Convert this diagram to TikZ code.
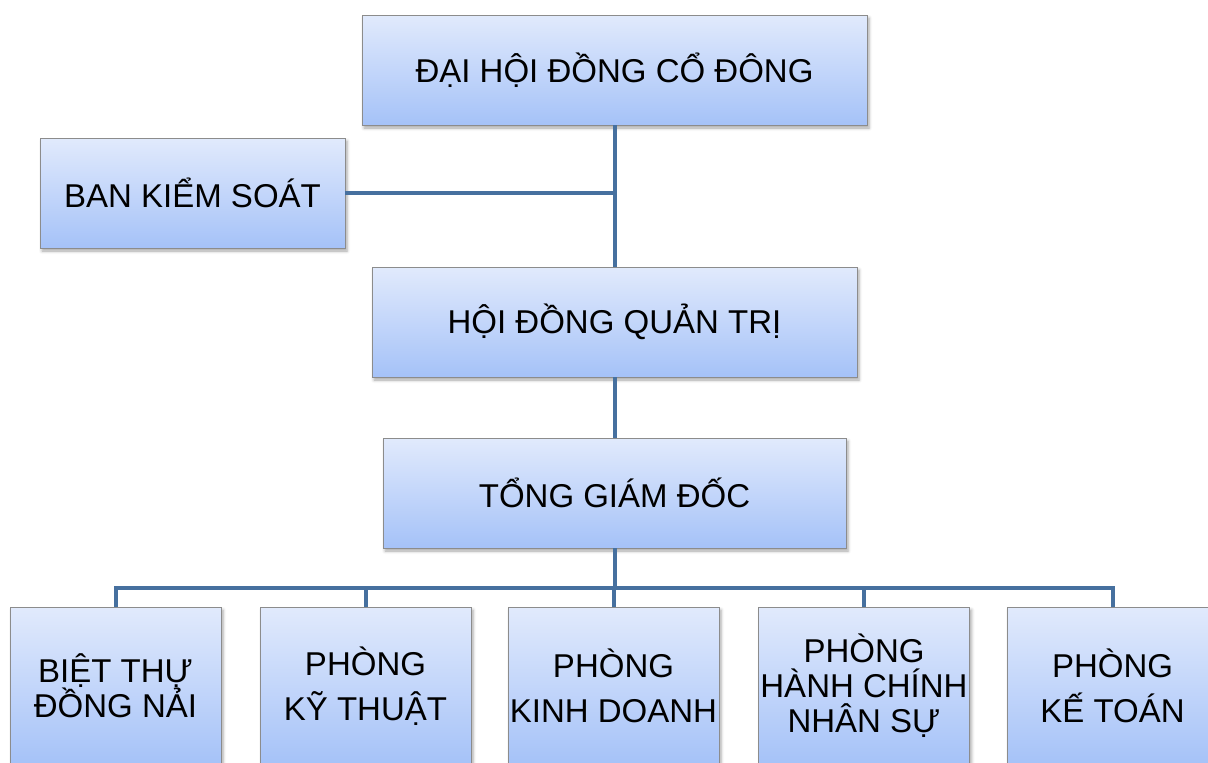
\documentclass[tikz,border=0pt]{standalone}
\usepackage{fontspec}
\setmainfont{Liberation Sans}
\usetikzlibrary{shadows.blur}
\definecolor{linkblue}{HTML}{46709F}
\definecolor{boxtop}{HTML}{E1EAFC}
\definecolor{boxbot}{HTML}{A5C2F8}
\definecolor{boxline}{HTML}{8C8C8C}
\tikzset{
  box/.style={draw=boxline, line width=0.8pt, shading=axis, top color=boxtop, bottom color=boxbot,
    blur shadow={shadow xshift=2pt, shadow yshift=-3pt, shadow blur radius=3pt, shadow opacity=35},
    inner sep=0pt, align=center, minimum height=110pt, font=\fontsize{33}{35}\selectfont},
  dept/.style={box, minimum width=211pt, minimum height=158pt},
  link/.style={draw=linkblue, line width=4pt}
}
\begin{document}
\begin{tikzpicture}[x=1pt, y=-1pt]
		\useasboundingbox (0,0) rectangle (1208,763);
		\def\busy{588}\def\depty{686}
		% upper levels
		\node[box, minimum width=505pt] (dhdcd) at (614.5,70) {ĐẠI HỘI ĐỒNG CỔ ĐÔNG};
		\node[box, minimum width=305pt] (bks) at (192.5,193) {BAN KIỂM SOÁT};
		\node[box, minimum width=485pt] (hdqt) at (614.5,322) {HỘI ĐỒNG QUẢN TRỊ};
		\node[box, minimum width=463pt] (tgd) at (614.5,493) {TỔNG GIÁM ĐỐC};
		% departments
		\node[dept] (bt) at (115.5,\depty) {BIỆT THỰ\\ĐỒNG NẢI};
		\node[dept] (kt) at (365.5,\depty) {PHÒNG\\[10pt]KỸ THUẬT};
		\node[dept] (kd) at (613.5,\depty) {PHÒNG\\[10pt]KINH DOANH};
		\node[dept] (hc) at (864,\depty) {PHÒNG\\HÀNH CHÍNH\\NHÂN SỰ};
		\node[dept] (kto) at (1112.5,\depty) {PHÒNG\\[10pt]KẾ TOÁN};
		% connectors
		\coordinate (bus) at (614.5,\busy);
		\draw[link] (dhdcd) -- (hdqt);
		\draw[link] (bks.east) -- (bks.east -| dhdcd.south);
		\draw[link] (hdqt) -- (tgd);
		\draw[link] (tgd.south) -- (bus);
		\foreach \d in {bt,kt,kd,hc,kto}
			\draw[link] (bus) -| (\d.north);
\end{tikzpicture}
\end{document}
